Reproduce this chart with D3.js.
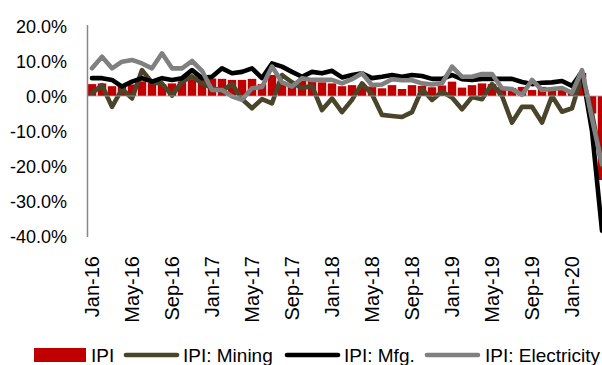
<!DOCTYPE html>
<html>
<head>
<meta charset="utf-8">
<script src="https://cdn.jsdelivr.net/npm/d3@7"></script>
<style>
  html, body { margin: 0; padding: 0; background: #fff; }
  svg { display: block; }
  text { font-family: "Liberation Sans", Arial, sans-serif; fill: #000; }
</style>
</head>
<body>
<svg id="chart" width="602" height="365"></svg>
<script>
// Monthly categories, Jan-16 .. Apr-20
const months = [
  "Jan-16","Feb-16","Mar-16","Apr-16","May-16","Jun-16","Jul-16","Aug-16","Sep-16","Oct-16","Nov-16","Dec-16",
  "Jan-17","Feb-17","Mar-17","Apr-17","May-17","Jun-17","Jul-17","Aug-17","Sep-17","Oct-17","Nov-17","Dec-17",
  "Jan-18","Feb-18","Mar-18","Apr-18","May-18","Jun-18","Jul-18","Aug-18","Sep-18","Oct-18","Nov-18","Dec-18",
  "Jan-19","Feb-19","Mar-19","Apr-19","May-19","Jun-19","Jul-19","Aug-19","Sep-19","Oct-19","Nov-19","Dec-19",
  "Jan-20","Feb-20","Mar-20","Apr-20"
];

// Year-on-year growth, %
const ipi = [
  3.4, 3.6, 2.8, 3.0, 3.3, 4.2, 3.7, 3.4, 3.6, 4.2, 4.8, 5.6,
  5.0, 4.9, 4.6, 4.6, 4.9, 3.4, 6.0, 4.0, 3.3, 4.4, 4.8, 3.9,
  3.6, 2.8, 3.1, 3.0, 2.7, 2.2, 3.1, 2.0, 3.1, 2.9, 2.5, 3.0,
  4.1, 2.4, 3.1, 3.6, 3.4, 2.6, 2.3, 2.6, 1.7, 2.6, 2.3, 2.3,
  1.7, 6.6, -5.0, -24.0
];
const mining = [
  0.8, 3.1, -3.1, 2.0, -0.7, 7.4, 3.9, 3.6, 0.1, 4.1, 5.6, 3.6,
  2.3, 1.5, 3.4, -0.9, -3.5, -0.9, -2.1, 6.0, 3.9, 2.2, 2.9, -4.0,
  -0.7, -4.6, -1.1, 3.6, 0.5, -5.4, -5.7, -6.0, -4.6, 2.0, -1.1, 1.2,
  -0.4, -3.8, -0.3, -0.9, 3.4, 0.0, -7.6, -3.1, -3.1, -7.6, 0.0, -4.5,
  -3.5, 6.0, -5.0, -20.0
];
const mfg = [
  5.1, 5.1, 4.6, 2.7, 4.1, 5.1, 4.1, 5.1, 4.6, 5.1, 7.4, 5.1,
  5.5, 7.9, 6.5, 6.9, 7.9, 5.1, 9.3, 8.4, 6.9, 5.5, 6.9, 6.5,
  7.2, 5.3, 6.0, 6.5, 5.1, 5.5, 6.0, 5.5, 6.0, 5.7, 4.9, 4.9,
  6.0, 4.8, 4.6, 4.9, 4.9, 4.9, 4.9, 4.0, 3.4, 3.8, 3.9, 4.3,
  2.9, 6.9, -10.0, -38.5
];
const electricity = [
  7.9, 11.2, 7.9, 9.8, 10.3, 9.3, 7.9, 12.2, 7.9, 7.9, 10.0, 7.2,
  1.7, 1.7, -0.1, -1.1, 2.2, 2.6, 8.4, 3.9, 2.7, 5.1, 4.6, 4.6,
  4.6, 3.6, 4.8, 6.5, 3.1, 3.3, 4.8, 4.5, 4.5, 3.6, 3.3, 3.6,
  8.4, 5.5, 5.5, 6.3, 6.3, 2.2, 2.0, 0.3, 4.6, 1.7, 2.0, 2.3,
  0.9, 7.4, -6.5, -19.5
];

const xTickLabels = ["Jan-16","May-16","Sep-16","Jan-17","May-17","Sep-17","Jan-18",
                     "May-18","Sep-18","Jan-19","May-19","Sep-19","Jan-20"];
const yTicks = [20, 10, 0, -10, -20, -30, -40];

const lineSeries = [
  { name: "IPI: Mining",      values: mining,      color: "#4A452A" },
  { name: "IPI: Mfg.",        values: mfg,         color: "#000000" },
  { name: "IPI: Electricity", values: electricity, color: "#808080" }
];

const svg = d3.select("#chart");

const plot = { left: 87, right: 607, top: 26, bottom: 236 };

const x = d3.scaleBand()
  .domain(months)
  .range([plot.left, plot.right])
  .paddingInner(0.15)
  .paddingOuter(0.075);

const y = d3.scaleLinear()
  .domain([-40, 20])
  .range([plot.bottom, plot.top]);

svg.append("defs").append("clipPath").attr("id", "plotClip")
  .append("rect")
  .attr("x", plot.left).attr("y", plot.top - 2)
  .attr("width", plot.right - plot.left + 4)
  .attr("height", plot.bottom - plot.top + 2);

// Y axis labels
const yAxis = svg.append("g")
  .attr("transform", `translate(${plot.left - 20},0)`)
  .call(d3.axisLeft(y).tickValues(yTicks).tickSize(0).tickPadding(0)
        .tickFormat(d => d.toFixed(1) + "%"));
yAxis.select(".domain").remove();
yAxis.selectAll("text")
  .style("font-size", "18px")
  .style("font-family", '"Liberation Sans", Arial, sans-serif')
  .attr("fill", "#000")
  .attr("dy", "0.35em");

// Bars
const chartArea = svg.append("g").attr("clip-path", "url(#plotClip)");

chartArea.append("g")
  .selectAll("rect")
  .data(months.map((m, i) => ({ m, v: ipi[i] })))
  .join("rect")
  .attr("x", d => x(d.m))
  .attr("width", x.bandwidth())
  .attr("y", d => y(Math.max(0, d.v)))
  .attr("height", d => Math.abs(y(d.v) - y(0)))
  .attr("fill", "#C00000");

// Zero line
svg.append("line")
  .attr("x1", plot.left).attr("x2", 602)
  .attr("y1", y(0)).attr("y2", y(0))
  .attr("stroke", "#A6A6A6")
  .attr("stroke-width", 1.2)
  .attr("opacity", 0.8);

// Lines
const line = d3.line()
  .x(d => x(d.m) + x.bandwidth() / 2)
  .y(d => y(d.v));

lineSeries.forEach(s => {
  chartArea.append("path")
    .datum(months.map((m, i) => ({ m, v: s.values[i] })))
    .attr("fill", "none")
    .attr("stroke", s.color)
    .attr("stroke-width", 4.6)
    .attr("stroke-linejoin", "round")
    .attr("stroke-linecap", "round")
    .attr("d", line);
});

// Vertical axis line
svg.append("line")
  .attr("x1", plot.left + 0.5).attr("x2", plot.left + 0.5)
  .attr("y1", plot.top - 1).attr("y2", plot.bottom + 1)
  .attr("stroke", "#868686")
  .attr("stroke-width", 1.5);

// X axis labels (rotated)
const xAxis = svg.append("g")
  .attr("transform", `translate(0,256)`)
  .call(d3.axisBottom(x).tickValues(xTickLabels).tickSize(0).tickPadding(0));
xAxis.select(".domain").remove();
xAxis.selectAll("text")
  .style("font-size", "20px")
  .style("font-family", '"Liberation Sans", Arial, sans-serif')
  .attr("fill", "#000")
  .attr("text-anchor", "end")
  .attr("transform", "rotate(-90)")
  .attr("x", 0)
  .attr("y", 0)
  .attr("dy", "0.35em");

// Legend
const legend = svg.append("g").attr("transform", "translate(0,355)");
const legendItems = [
  { name: "IPI", type: "bar", color: "#C00000", sx: 34, tx: 91 },
  { name: lineSeries[0].name, type: "line", color: lineSeries[0].color, sx: 124, tx: 183 },
  { name: lineSeries[1].name, type: "line", color: lineSeries[1].color, sx: 285, tx: 344 },
  { name: lineSeries[2].name, type: "line", color: lineSeries[2].color, sx: 425, tx: 485 }
];
legendItems.forEach(it => {
  if (it.type === "bar") {
    legend.append("rect")
      .attr("x", it.sx).attr("y", -7)
      .attr("width", 52).attr("height", 14)
      .attr("fill", it.color);
  } else {
    legend.append("line")
      .attr("x1", it.sx + 2).attr("x2", it.sx + 53)
      .attr("y1", 0).attr("y2", 0)
      .attr("stroke", it.color)
      .attr("stroke-width", 4.6)
      .attr("stroke-linecap", "round");
  }
  legend.append("text")
    .attr("x", it.tx).attr("y", 0)
    .attr("dy", "0.35em")
    .style("font-size", "19px")
    .text(it.name);
});
</script>
</body>
</html>
